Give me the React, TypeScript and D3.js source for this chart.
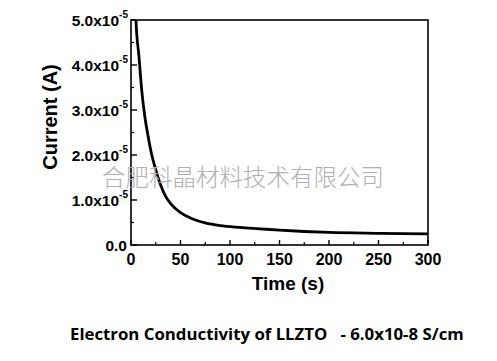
import React from "react";
import * as d3 from "d3";

const timeS = [4.5, 5, 8, 11, 14, 17, 20, 25, 30, 35, 40, 50, 60, 75, 90, 110, 130, 150, 175, 200, 250, 300];
const currentA = [5.3e-5, 5.0e-5, 4.2e-5, 3.4e-5, 2.85e-5, 2.45e-5, 2.1e-5, 1.67e-5, 1.33e-5, 1.08e-5, 0.92e-5, 0.72e-5, 0.6e-5, 0.49e-5, 0.43e-5, 0.39e-5, 0.36e-5, 0.33e-5, 0.3e-5, 0.28e-5, 0.26e-5, 0.245e-5];
const xTicks = [0, 50, 100, 150, 200, 250, 300];
const xMinor = [25, 75, 125, 175, 225, 275];
const yTicks = [0, 1e-5, 2e-5, 3e-5, 4e-5, 5e-5];
const yMinor = [0.5e-5, 1.5e-5, 2.5e-5, 3.5e-5, 4.5e-5];
const yTickMantissa = ["0.0", "1.0x10", "2.0x10", "3.0x10", "4.0x10", "5.0x10"];
const yTickExp = ["", "-5", "-5", "-5", "-5", "-5"];

export default function App() {
  const W = 497, H = 361;
  const x = d3.scaleLinear().domain([0, 300]).range([131, 428]);
  const y = d3.scaleLinear().domain([0, 5e-5]).range([245, 20]);
  const line = d3.line<number>().x((_, i) => x(timeS[i])).y((d) => y(d)).curve(d3.curveMonotoneX);
  const font = "'Liberation Sans', Arial, sans-serif";
  return (
    <svg width={W} height={H} style={{ position: "absolute", left: 0, top: 0, background: "#fff" }}>
      <defs>
        <clipPath id="plot">
          <rect x={131} y={20} width={297} height={225} />
        </clipPath>
      </defs>
      <rect x={0} y={0} width={W} height={H} fill="#fff" />
      <path d={line(currentA) || ""} fill="none" stroke="#000" strokeWidth={2.8} clipPath="url(#plot)" />
      <rect x={131} y={20} width={297} height={225} fill="none" stroke="#000" strokeWidth={1.6} />
      {xTicks.map((t) => (
        <g key={"xt" + t}>
          <line x1={x(t)} x2={x(t)} y1={245} y2={240} stroke="#000" strokeWidth={1.4} />
          <text x={x(t)} y={265} textAnchor="middle" fontFamily={font} fontWeight="bold" fontSize={16}>{t}</text>
        </g>
      ))}
      {xMinor.map((t) => (
        <line key={"xm" + t} x1={x(t)} x2={x(t)} y1={245} y2={242} stroke="#000" strokeWidth={1.2} />
      ))}
      {yTicks.map((v, i) => (
        <g key={"yt" + i}>
          <line x1={131} x2={137} y1={y(v)} y2={y(v)} stroke="#000" strokeWidth={1.4} />
          <text x={i === 0 ? 127 : 128} y={y(v) + 6} textAnchor="end" fontFamily={font} fontWeight="bold" fontSize={15.5}>
            {yTickMantissa[i]}
            {yTickExp[i] && <tspan fontSize={10} dy={-8}>{yTickExp[i]}</tspan>}
          </text>
        </g>
      ))}
      {yMinor.map((v, i) => (
        <line key={"ym" + i} x1={131} x2={134} y1={y(v)} y2={y(v)} stroke="#000" strokeWidth={1.2} />
      ))}
      <text transform="translate(57,117) rotate(-90)" textAnchor="middle" fontFamily={font} fontWeight="bold" fontSize={20}>Current (A)</text>
      <text x={288} y={290} textAnchor="middle" fontFamily={font} fontWeight="bold" fontSize={19}>Time (s)</text>
      <text x={243} y={186} textAnchor="middle" fontFamily="'Noto Sans CJK SC', sans-serif" fontSize={23.5} fill="#b0b0b0" fontWeight={300}>合肥科晶材料技术有限公司</text>
      <text x={70} y={340} fontFamily="'Open Sans', 'Noto Sans', sans-serif" fontWeight="bold" fontSize={16.8} xmlSpace="preserve" style={{ whiteSpace: "pre" }}>Electron Conductivity of LLZTO   - 6.0x10-8 S/cm</text>
    </svg>
  );
}
